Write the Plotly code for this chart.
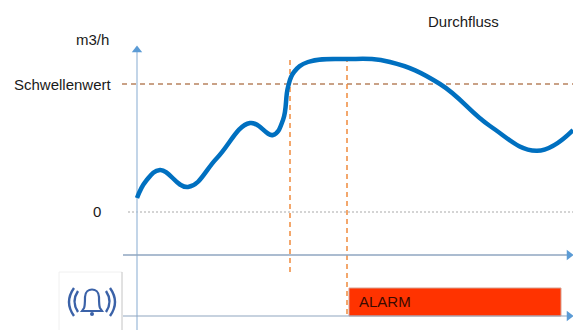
import plotly.graph_objects as go

# Time in units from the vertical axis, flow in units above zero
time = [1, 10, 24, 52, 81, 114, 137, 147, 152, 158, 172, 211, 254, 304, 354, 401, 437]
flow = [14, 31, 42, 25, 54, 89, 77, 92, 125, 140, 150, 153, 150, 128, 86, 61.3, 82]
threshold = 128
zero = 0
t_start = 154
t_alarm = 211
t_alarm_end = 425
time_end = 437

X0, PX = -136, 573
Y_TOP, Y_BOT = 212, -118

BLUE = "#0070c0"
AXIS = "#8fa6c0"
ARROW = "#5b9bd5"
ORANGE = "#f08a3c"
BROWN = "#b8835f"
GREY = "#a9a9a9"

fig = go.Figure()

def line(x, y, color, width=1, dash="solid"):
    fig.add_trace(go.Scatter(x=x, y=y, mode="lines", hoverinfo="skip",
                             line=dict(color=color, width=width, dash=dash)))

def arrow(x, y, sym):
    fig.add_trace(go.Scatter(x=[x], y=[y], mode="markers", hoverinfo="skip",
                             marker=dict(symbol=sym, size=9, color=ARROW)))

# alarm bar
fig.add_trace(go.Scatter(x=[213, t_alarm_end, t_alarm_end, 213, 213], y=[-76, -76, -104, -104, -76], mode="lines",
                         fill="toself", fillcolor="#ff3300", hoverinfo="skip",
                         line=dict(color="#d9a090", width=1)))

# icon box
line([-77, -14], [-60, -60], "#f0f0f0", 1)
line([-14, -14], [-60, -118], "#c4c4c4", 1)
line([-77, -77], [-60, -118], "#f0f0f0", 1)

line([-14, time_end], [threshold, threshold], BROWN, 1.3, "5px,4px")
line([-8, time_end], [zero, zero], GREY, 1.2, "2px,2px")
line([t_start, t_start], [152, -61], ORANGE, 1.5, "5px,4px")
line([t_alarm, t_alarm], [155, -104], ORANGE, 1.5, "5px,4px")

# axes
line([1, 1], [-118, 160], "#a9c3de", 1.4)
arrow(1, 162, "triangle-up")
line([-13, 432], [-43, -43], AXIS, 1.4)
arrow(433, -43, "triangle-right")
line([-13, 432], [-104, -104], AXIS, 1.2)
arrow(433, -104, "triangle-right")

# flow curve
fig.add_trace(go.Scatter(x=time, y=flow, mode="lines", hoverinfo="skip",
                         line=dict(color=BLUE, width=4.5, shape="spline", smoothing=1.2)))

FONT = "Liberation Sans"
ann = []
for txt, x, y in [("m3/h", -25, 173), ("Schwellenwert", -22, 128), ("0", -33, 1)]:
    ann.append(dict(x=x, y=y, text=txt, showarrow=False, xanchor="right", yanchor="middle",
                    font=dict(family=FONT, size=15, color="#1a1a1a")))
ann.append(dict(x=327.5, y=191, text="Durchfluss", showarrow=False, xanchor="center", yanchor="middle",
                font=dict(family=FONT, size=15, color="#1a1a1a")))
ann.append(dict(x=221, y=-89, text="ALARM", showarrow=False, xanchor="left", yanchor="middle",
                font=dict(family=FONT, size=15, color="#3a0a00")))

# bell icon
ICON = "#3b62a8"
arc = dict(type="path", xref="x", yref="y", line=dict(color=ICON, width=2.4))
shapes = [
    dict(type="path", xref="x", yref="y", line=dict(color=ICON, width=2.2),
         path="M -54 -99 L -52 -96 C -51 -94 -51 -88 -51 -85 C -50.5 -75 -37.5 -75 -37 -85 "
              "C -37 -88 -37 -94 -36 -96 L -34 -99 Z"),
    dict(arc, path="M -58 -79 Q -65 -89.5 -58 -100"),
    dict(arc, path="M -62 -76 Q -72 -90 -62 -104"),
    dict(arc, path="M -30 -79 Q -23 -89.5 -30 -100"),
    dict(arc, path="M -26 -76 Q -16 -90 -26 -104"),
    dict(type="circle", xref="x", yref="y", x0=-46, x1=-42, y0=-104, y1=-100,
         fillcolor=ICON, line=dict(color=ICON, width=0)),
]

fig.update_layout(
    width=573, height=330, margin=dict(l=0, r=0, t=0, b=0),
    autosize=False, showlegend=False,
    paper_bgcolor="white", plot_bgcolor="white",
    xaxis=dict(range=[X0, X0 + PX], visible=False, fixedrange=True),
    yaxis=dict(range=[Y_BOT, Y_TOP], visible=False, fixedrange=True),
    annotations=ann, shapes=shapes,
)
fig.write_html("out.html", config=dict(displayModeBar=False),
               post_script="document.body.style.margin='0';document.body.style.overflow='hidden';")
